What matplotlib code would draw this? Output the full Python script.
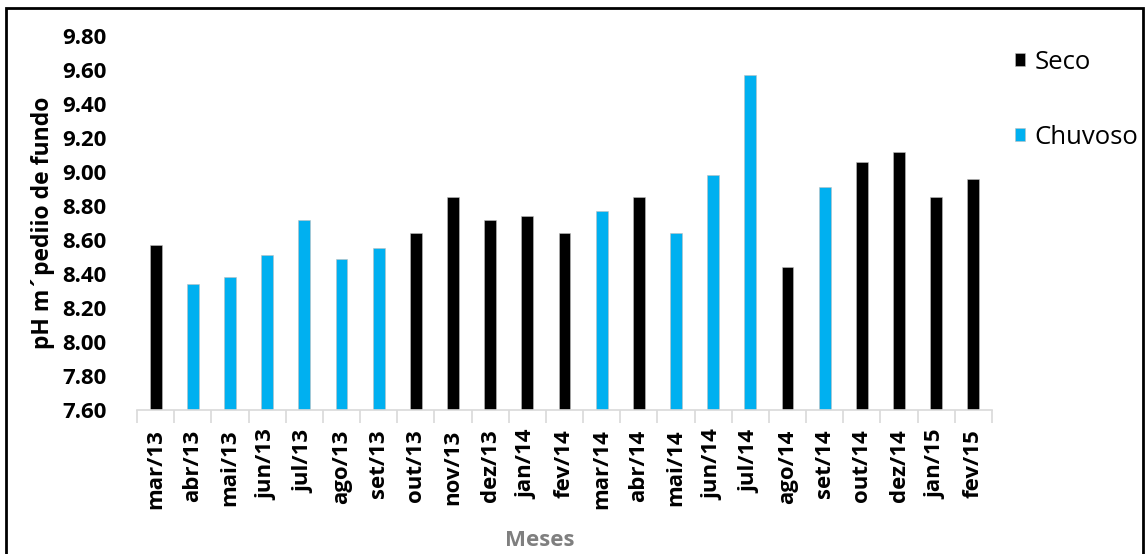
import matplotlib.pyplot as plt
from matplotlib.patches import Rectangle

MONTHS = ['mar/13', 'abr/13', 'mai/13', 'jun/13', 'jul/13', 'ago/13', 'set/13',
          'out/13', 'nov/13', 'dez/13', 'jan/14', 'fev/14', 'mar/14', 'abr/14',
          'mai/14', 'jun/14', 'jul/14', 'ago/14', 'set/14', 'out/14', 'dez/14',
          'jan/15', 'fev/15']
PH = [8.57, 8.34, 8.38, 8.51, 8.72, 8.49, 8.55,
      8.64, 8.85, 8.72, 8.74, 8.64, 8.77, 8.85,
      8.64, 8.98, 9.57, 8.44, 8.91, 9.06, 9.12,
      8.85, 8.96]
SEASON = ['Seco', 'Chuvoso', 'Chuvoso', 'Chuvoso', 'Chuvoso', 'Chuvoso', 'Chuvoso',
          'Seco', 'Seco', 'Seco', 'Seco', 'Seco', 'Chuvoso', 'Seco',
          'Chuvoso', 'Chuvoso', 'Chuvoso', 'Seco', 'Chuvoso', 'Seco', 'Seco',
          'Seco', 'Seco']
COLORS = {'Seco': '#000000', 'Chuvoso': '#00B0F0'}
Y_TICKS = [7.6 + 0.2 * i for i in range(12)]

plt.rcParams['font.family'] = ['Open Sans', 'DejaVu Sans']

fig = plt.figure(figsize=(11.46, 5.54), dpi=100)
ax = fig.add_axes([137 / 1146, 144 / 554, 855 / 1146, 374 / 554])

x = list(range(len(MONTHS)))
for season in ['Seco', 'Chuvoso']:
    xs = [i for i in x if SEASON[i] == season]
    ys = [PH[i] - 7.6 for i in xs]
    ax.bar(xs, ys, bottom=7.6, width=0.32, color=COLORS[season], label=season,
           edgecolor='#bfbfbf', linewidth=0.4)

ax.set_xlim(-0.5, len(MONTHS) - 0.5)
ax.set_ylim(7.6, 9.8)
ax.set_yticks(Y_TICKS)
ax.set_yticklabels([f'{v:.2f}' for v in Y_TICKS], fontsize=16, fontweight='bold')
ax.set_xticks(x)
ax.set_xticklabels(MONTHS, rotation=90, fontsize=16, fontweight='bold')
ax.set_xticks([i - 0.5 for i in range(len(MONTHS) + 1)], minor=True)
ax.tick_params(axis='x', which='major', length=0, pad=14)
ax.tick_params(axis='x', which='minor', length=9, color='#d9d9d9', width=1.2)
ax.tick_params(axis='y', length=0, pad=22)

for side in ['top', 'right', 'left']:
    ax.spines[side].set_visible(False)
ax.spines['bottom'].set_color('#d9d9d9')
ax.spines['bottom'].set_linewidth(1.2)

ax.set_ylabel('pH m´pediio de fundo', fontsize=16.5, fontweight='bold', labelpad=5)
fig.text(540 / 1146, 13 / 554, 'Meses', fontsize=16, fontweight='bold',
         color='#7f7f7f', ha='center', va='center')

fig.legend(loc='upper left', bbox_to_anchor=(1015 / 1146, 1 - 50 / 554),
           frameon=False, fontsize=18.5, handlelength=0.4, handleheight=0.4,
           handletextpad=0.35, labelspacing=1.95, borderaxespad=0, borderpad=0)

fig.patches.append(Rectangle((6 / 1146, -0.05), 1137 / 1146, 1.05 - 8 / 554,
                             transform=fig.transFigure, fill=False,
                             edgecolor='black', linewidth=2))

fig.savefig('out.png', dpi=100)
